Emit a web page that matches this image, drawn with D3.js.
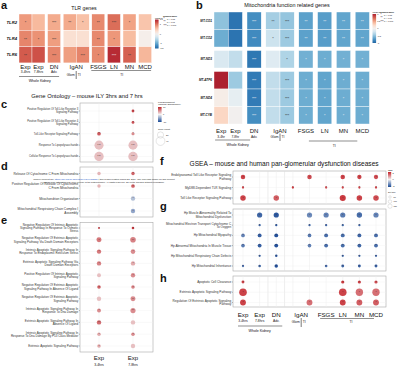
<!DOCTYPE html>
<html>
<head>
<meta charset="utf-8">
<script src="https://cdn.jsdelivr.net/npm/d3@7"></script>
<style>
body { margin: 0; background: #fff; }
svg { display: block; font-family: "Liberation Sans", Arial, sans-serif; }
</style>
</head>
<body>
<script>
var w = 400, h = 367;

// ---- columns shared by the heatmaps and the GSEA panels ----
var colKeys = ["Exp34", "Exp78", "DN", "Glom", "TI", "FSGS", "LN", "MN", "MCD"];
var colGroup = [0, 0, 1, 2, 2, 3, 4, 5, 6];
var colMain = ["Exp", "Exp", "DN", "IgAN", "IgAN", "FSGS", "LN", "MN", "MCD"];
var subHrs = ["3-4hrs", "7-8hrs", "Adv."];
var subHr = ["3-4hr", "7-8hr", "Adv."];

// ---- a: TLR genes (log2FC) ----
var tlrGenes = ["TLR2", "TLR4", "TLR6"];
var tlrFC = [
  [0.8, 0.6, 0.7, 0.7, 0.55, 0.9, 1.05, 0.75, 0.52],
  [0.92, 0.85, 0.78, 0.28, 0.28, 0.9, 0.82, 0.58, 0.06],
  [1.15, 1.2, 0.92, 0.78, 0.92, 0.9, 1.42, 1.12, 0.62]
];
var tlrSig = [
  ["*", "", "***", "**", "*", "**", "***", "*", ""],
  ["**", "*", "***", "", "", "**", "*", "", ""],
  ["**", "", "***", "", "***", "*", "***", "**", ""]
];

// ---- b: mitochondria genes (log2FC) ----
var mitoGenes = ["MT-CO1", "MT-CO2", "MT-ND3", "MT-ATP6", "MT-ND4", "MT-CYB"];
var mitoFC = [
  [-0.5, -0.92, -0.78, -0.42, -0.48, -0.68, -0.7, -0.66, -0.66],
  [-0.62, -0.92, -0.8, -0.25, -0.45, -0.68, -0.7, -0.66, -0.66],
  [-0.18, -0.3, -0.9, -0.15, -0.38, -0.6, -0.62, -0.6, -0.6],
  [1.0, -0.45, -0.88, -0.3, -0.45, -0.62, -0.66, -0.62, -0.62],
  [0.06, -0.1, -0.88, -0.3, -0.45, -0.62, -0.66, -0.62, -0.62],
  [0.25, 0, -0.78, -0.3, -0.45, -0.62, -0.66, -0.62, -0.62]
];
var mitoSig = [
  ["", "", "***", "**", "***", "**", "**", "**", "**"],
  ["", "", "***", "*", "***", "**", "**", "**", "**"],
  ["", "", "***", "", "*", "*", "*", "*", "*"],
  ["", "", "***", "", "***", "*", "*", "*", "*"],
  ["", "", "***", "", "***", "*", "*", "*", "*"],
  ["", "", "***", "", "***", "*", "*", "*", "*"]
];

// ---- c, d, e: Gene Ontology [fold enrichment, gene count, significance] ----
var goCols = ["Exp 3-4hrs", "Exp 7-8hrs"];
var goTermsC = [
  "Positive Regulation Of Toll-Like Receptor 3\nSignaling Pathway",
  "Positive Regulation Of Toll-Like Receptor 4\nSignaling Pathway",
  "Toll-Like Receptor Signaling Pathway",
  "Response To Lipopolysaccharide",
  "Cellular Response To Lipopolysaccharide"
];
var goC = [
  [null, [8.5, 4, "*"]],
  [null, [8, 4, "*"]],
  [[7.5, 7, "**"], [5, 5, "*"]],
  [[2.5, 42, "***"], [2.5, 42, "***"]],
  [[2.5, 45, "***"], [2.5, 45, "***"]]
];
var goTermsD = [
  "Release Of Cytochrome C From Mitochondria",
  "Positive Regulation Of Release Of Cytochrome\nC From Mitochondria",
  "Mitochondrion Organization",
  "Mitochondrial Respiratory Chain Complex I\nAssembly"
];
var goD = [
  [[3, 6, ""], [7, 6, "*"]],
  [[3, 6, ""], [7, 7, "*"]],
  [null, [-3, 10, "*"]],
  [null, [-4.5, 10, "*"]]
];
var goTermsE = [
  "Negative Regulation Of Intrinsic Apoptotic\nSignaling Pathway In Response To Osmotic\nStress",
  "Negative Regulation Of Extrinsic Apoptotic\nSignaling Pathway Via Death Domain Receptors",
  "Intrinsic Apoptotic Signaling Pathway In\nResponse To Endoplasmic Reticulum Stress",
  "Extrinsic Apoptotic Signaling Pathway Via\nDeath Domain Receptors",
  "Positive Regulation Of Intrinsic Apoptotic\nSignaling Pathway",
  "Negative Regulation Of Extrinsic Apoptotic\nSignaling Pathway In Absence Of Ligand",
  "Negative Regulation Of Extrinsic Apoptotic\nSignaling Pathway",
  "Intrinsic Apoptotic Signaling Pathway In\nResponse To Dna Damage",
  "Extrinsic Apoptotic Signaling Pathway In\nAbsence Of Ligand",
  "Intrinsic Apoptotic Signaling Pathway In\nResponse To Dna Damage By P53 Class Mediator",
  "Extrinsic Apoptotic Signaling Pathway"
];
var goE = [
  [[9, 1.7, "*"], [9, 3.4, "*"]],
  [[6, 12.7, "*"], [5.5, 16, "**"]],
  [[6, 9.9, "*"], [5, 11, "*"]],
  [[5.5, 9.9, "*"], [3.5, 9.9, "*"]],
  [[2.5, 8, ""], [5, 9.9, "*"]],
  [[7, 6.6, "*"], [5.5, 6.6, "*"]],
  [[2.5, 9.9, ""], [5, 12.7, "**"]],
  [[5, 8, "*"], [5, 13.5, "**"]],
  [[6.5, 9.9, "**"], [2.5, 9.9, ""]],
  [[3.5, 6.6, "*"], [5, 6.6, "*"]],
  [[3.5, 6.6, "*"], [2.5, 9.9, ""]]
];

// ---- f, g, h: GSEA [NES, set size] ----
var gseaTermsF = [
  "Endolysosomal Toll Like Receptor Signaling\nPathway",
  "MyD88-Dependent TLR Signaling",
  "Toll Like Receptor Signaling Pathway"
];
var gseaF = [
  [[2.0, 60], null, null, null, [1.9, 60], null, [2.0, 60], [2.0, 55], [1.9, 55]],
  [[2.0, 15], null, null, [2.1, 15], null, [1.9, 15], [2.0, 15], [2.0, 15], [2.0, 15]],
  [[2.0, 90], null, [1.7, 90], null, null, null, [2.1, 110], [2.0, 90], [1.9, 90]]
];
var gseaTermsG = [
  "Hp Muscle Abnormality Related To\nMitochondrial Dysfunction",
  "Mitochondrial Electron Transport Cytochrome C\nTo Oxygen",
  "Hp Mitochondrial Myopathy",
  "Hp Abnormal Mitochondria In Muscle Tissue",
  "Hp Mitochondrial Respiratory Chain Defects",
  "Hp Mitochondrial Inheritance"
];
var gseaG = [
  [null, [-2.0, 80], [-2.2, 80], null, [-1.5, 80], [-1.6, 80], [-1.7, 80], [-1.9, 85], [-1.6, 80]],
  [null, [-2.0, 15], [-2.2, 15], null, [-2.0, 15], [-2.0, 15], [-2.0, 15], [-2.0, 15], null],
  [[-1.6, 40], [-2.1, 45], [-2.3, 45], null, [-1.7, 40], [-1.9, 45], [-1.9, 45], [-2.0, 45], [-1.9, 45]],
  [[-1.7, 40], [-2.1, 45], [-2.3, 45], null, [-1.6, 40], [-1.9, 45], [-1.9, 45], [-2.0, 45], [-1.9, 45]],
  [null, [-2.0, 15], [-2.2, 18], null, null, null, [-2.0, 15], [-2.0, 15], [-2.0, 15]],
  [[-1.9, 15], [-2.0, 20], [-2.3, 35], null, null, [-1.9, 20], [-2.0, 25], [-2.1, 25], [-2.1, 25]]
];
var gseaTermsH = [
  "Apoptotic Cell Clearance",
  "Extrinsic Apoptotic Signaling Pathway",
  "Regulation Of Extrinsic Apoptotic Signaling\nPathway"
];
var gseaH = [
  [[2.0, 25], null, null, null, null, null, [2.1, 30], [2.0, 30], [1.9, 30]],
  [[2.0, 170], null, null, null, null, null, [2.0, 170], [1.5, 160], [1.5, 160]],
  [[2.0, 100], null, null, null, [1.5, 100], null, [2.0, 100], [1.7, 100], [1.7, 100]]
];

// legend tick labels
var fcTicksA = [1.5, 1, 0, -1, -1.5];
var fcTicksB = [1, 0.5, 0, -0.5, -1];
var feTicks = [10, 0, -10];
var nesTicks = [2, 0, -2];
var sigLegend = [["*", "p < 0.05"], ["**", "p < 0.01"], ["***", "p < 0.001"]];

var svg = d3.select("body").append("svg").attr("width", w).attr("height", h);
var defs = svg.append("defs");

// ---- helpers ----
function txt(g, s, x, y, size, anchor, extra) {
  var t = g.append("text").attr("x", x).attr("y", y).attr("font-size", size)
    .attr("text-anchor", anchor || "start").attr("fill", "#111").text(s);
  if (extra) for (var k in extra) t.attr(k, extra[k]);
  return t;
}
function multi(g, s, x, yc, size, anchor) {
  var lines = s.split("\n"), lh = size * 1.12;
  var t = g.append("text").attr("font-size", size).attr("text-anchor", anchor).attr("fill", "#333")
    .attr("y", yc - (lines.length - 1) * lh / 2 + size * 0.35);
  lines.forEach(function(l, i) {
    t.append("tspan").attr("x", x).attr("dy", i ? lh : 0).text(l);
  });
}
function line(g, x1, y1, x2, y2, col, sw) {
  g.append("line").attr("x1", x1).attr("y1", y1).attr("x2", x2).attr("y2", y2)
    .attr("stroke", col).attr("stroke-width", sw);
}
function vGrad(id, scale, top, bottom) {
  var lg = defs.append("linearGradient").attr("id", id).attr("x1", 0).attr("y1", 0).attr("x2", 0).attr("y2", 1);
  d3.range(0, 1.01, 0.1).forEach(function(t) {
    lg.append("stop").attr("offset", t).attr("stop-color", scale(top + (bottom - top) * t));
  });
}
function rdbu(max) {
  var t = d3.scaleLinear().domain([-max, max]).range([0.9, 0.1]).clamp(true);
  return function(v) { return d3.interpolateRdBu(t(v)); };
}

// column axis under heatmaps / GSEA panels
function colAxis(cx, o) {
  var g = svg.append("g");
  var mid = (cx(3) + cx(4)) / 2;
  colMain.forEach(function(m, i) {
    if (i === 4) return;
    txt(g, m, i === 3 ? mid : cx(i), o.y, o.main, "middle");
  });
  o.subs.forEach(function(s, i) { txt(g, s, cx(i), o.y + o.subDy, o.sub, "middle"); });
  txt(g, "Glom", mid - 1.5, o.y + o.glomDy, o.sub, "end");
  txt(g, "TI", mid + 1.5, o.y + o.glomDy, o.sub, "start");
  line(g, mid, o.y + o.bar[0], mid, o.y + o.bar[1], "#222", 0.6);
  line(g, cx(0) - o.wkPad[0], o.y + o.wkDy, cx(2) + o.wkPad[1], o.y + o.wkDy, "#444", 0.6);
  txt(g, "Whole Kidney", (cx(0) + cx(2)) / 2, o.y + o.wkTextDy, o.sub + 0.3, "middle");
  line(g, cx(5) - o.tiPad[0], o.y + o.tiDy, cx(8) + o.tiPad[1], o.y + o.tiDy, "#444", 0.6);
  txt(g, "TI", (cx(5) + cx(8)) / 2, o.y + o.tiTextDy, o.sub, "middle");
}

function heatmap(o) {
  var g = svg.append("g");
  var xi = d3.scaleLinear().domain([0, colKeys.length]).range([o.left, o.left + colKeys.length * o.cw]);
  var yi = d3.scaleLinear().domain([0, o.genes.length]).range([o.top, o.top + o.genes.length * o.rh]);
  var colX = function(i) { return xi(i) + colGroup[i] * o.gap; };
  var rowY = function(r) { return yi(r) + o.rowGroup[r] * o.rowGap; };
  var cells = [];
  o.fc.forEach(function(row, r) {
    row.forEach(function(v, c) { cells.push({ r: r, c: c, v: v, s: o.sig[r][c] }); });
  });
  g.selectAll("rect.cell").data(cells).enter().append("rect").attr("class", "cell")
    .attr("x", function(d) { return colX(d.c); })
    .attr("y", function(d) { return rowY(d.r); })
    .attr("width", o.cw).attr("height", o.rh)
    .attr("fill", function(d) { return o.color(d.v); })
    .attr("stroke", "#fff").attr("stroke-width", 0.4);
  g.selectAll("text.star").data(cells.filter(function(d) { return d.s; })).enter().append("text")
    .attr("class", "star")
    .attr("x", function(d) { return colX(d.c) + o.cw / 2; })
    .attr("y", function(d) { return rowY(d.r) + o.rh / 2 + 2.2; })
    .attr("font-size", 3.8).attr("text-anchor", "middle")
    .attr("fill", function(d) { return Math.abs(d.v) > o.lightAt ? "#f4f4f4" : "#333"; })
    .text(function(d) { return d.s; });
  o.genes.forEach(function(gn, r) {
    txt(g, gn, o.left - 2, rowY(r) + o.rh / 2 + o.labSize * 0.35, o.labSize, "end",
      { "font-weight": "bold", "font-style": "italic" });
  });
  return function(i) { return colX(i) + o.cw / 2; };
}

function dotPanel(o) {
  var g = svg.append("g");
  var ys = d3.scalePoint().domain(d3.range(o.rows.length)).range(o.yRange);
  g.append("rect").attr("x", o.box[0]).attr("y", o.box[1])
    .attr("width", o.box[2] - o.box[0]).attr("height", o.box[3] - o.box[1])
    .attr("fill", "#fff").attr("stroke", "#a8a8a8").attr("stroke-width", 0.6);
  o.cols.forEach(function(c) {
    line(g, o.x(c), o.box[1], o.x(c), o.box[3], "#ececec", 0.5);
  });
  (o.seps || []).forEach(function(xv) { line(g, xv, o.box[1], xv, o.box[3], "#dcdcdc", 0.5); });
  o.rows.forEach(function(lbl, r) {
    line(g, o.box[0], ys(r), o.box[2], ys(r), "#f0f0f0", 0.4);
    line(g, o.box[0] - 1.2, ys(r), o.box[0], ys(r), "#444", 0.35);
    multi(g, lbl, o.box[0] - 1.8, ys(r), o.labSize, "end");
  });
  var dots = [];
  o.data.forEach(function(row, r) {
    row.forEach(function(d, c) { if (d) dots.push({ r: r, c: c, v: d[0], n: d[1], s: d.length > 2 ? d[2] : "*" }); });
  });
  g.selectAll("circle.dot").data(dots).enter().append("circle").attr("class", "dot")
    .attr("cx", function(d) { return o.x(o.cols[d.c]); })
    .attr("cy", function(d) { return ys(d.r); })
    .attr("r", function(d) { return o.size(d.n); })
    .attr("fill", function(d) { return o.color(d.v); });
  g.selectAll("text.star").data(dots.filter(function(d) { return d.s; })).enter().append("text")
    .attr("class", "star")
    .attr("x", function(d) { return o.x(o.cols[d.c]); })
    .attr("y", function(d) { return ys(d.r) + 1.7; })
    .attr("font-size", 3).attr("text-anchor", "middle").attr("fill", "#3a1010").attr("fill-opacity", 0.75)
    .text(function(d) { return d.s; });
}

// ---- panel letters and titles ----
var lettersG = svg.append("g").attr("font-weight", "bold");
txt(lettersG, "a", 1, 8.5, 11);
txt(lettersG, "b", 196, 9, 11);
txt(lettersG, "c", 1, 108, 11);
txt(lettersG, "d", 1, 170, 11);
txt(lettersG, "e", 1, 224, 11);
txt(lettersG, "f", 160, 165, 11);
txt(lettersG, "g", 160, 210, 11);
txt(lettersG, "h", 160, 282, 11);

txt(svg, "TLR genes", 84, 10, 5.2, "middle");
txt(svg, "Mitochondria function related genes", 287, 7, 5.4, "middle");
txt(svg, "Gene Ontology \u2013 mouse ILY 3hrs and 7 hrs", 87, 97.5, 5.8, "middle");
txt(svg, "GSEA \u2013 mouse and human pan-glomerular dysfunction diseases", 189.5, 166, 6.6, "start");

// ---- a ----
var colorA = rdbu(1.5);
var cxA = heatmap({ left: 19, top: 14, cw: 13, gap: 2.6, rh: 16.3, rowGap: 0, rowGroup: [0, 0, 0],
  genes: tlrGenes, fc: tlrFC, sig: tlrSig, color: colorA, lightAt: 1.3, labSize: 4.2 });
colAxis(cxA, { y: 69, main: 6, sub: 3.3, subs: subHrs, subDy: 4, glomDy: 6.5, bar: [2, 10],
  wkDy: 7.5, wkTextDy: 13, wkPad: [6.5, 5], tiDy: 1.5, tiTextDy: 7, tiPad: [7, 6] });

// ---- b ----
var colorB = rdbu(1);
var cxB = heatmap({ left: 214, top: 12, cw: 14.2, gap: 4.6, rh: 17.5, rowGap: 3.5, rowGroup: [0, 0, 1, 2, 2, 2],
  genes: mitoGenes, fc: mitoFC, sig: mitoSig, color: colorB, lightAt: 0.5, labSize: 3.1 });
colAxis(cxB, { y: 132.5, main: 6, sub: 3.3, subs: subHr, subDy: 5, glomDy: 5, bar: [1, 8.5],
  wkDy: 7.5, wkTextDy: 13.5, wkPad: [6, -4], tiDy: 8.5, tiTextDy: 14, tiPad: [-3, -5] });

// ---- heatmap legends ----
function heatLegend(x, y, hgt, max, ticks, color, id, sx, sy) {
  var g = svg.append("g");
  vGrad(id, color, max, -max);
  txt(g, "log2FC", x, y - 1, 2.4);
  g.append("rect").attr("x", x).attr("y", y).attr("width", 3.6).attr("height", hgt)
    .attr("fill", "url(#" + id + ")");
  var ty = d3.scaleLinear().domain([max, -max]).range([y, y + hgt]);
  ticks.forEach(function(t) {
    line(g, x + 3.6, ty(t), x + 4.3, ty(t), "#fff", 0.3);
    txt(g, t, x + 4.8, ty(t) + 0.8, 2.2);
  });
  txt(g, "Significance", sx, sy, 2.4, "start", { "font-weight": "bold" });
  sigLegend.forEach(function(s, i) {
    txt(g, s[0], sx + 0.5, sy + 3.5 + i * 3.3, 2.6);
    txt(g, s[1], sx + 4, sy + 3.3 + i * 3.3, 2.2);
  });
}
heatLegend(155, 19.5, 29, 1.5, fcTicksA, colorA, "gA", 163, 16.5);
heatLegend(372.5, 14, 29, 1, fcTicksB, colorB, "gB", 380, 12.5);

// ---- c, d, e ----
var goX = d3.scalePoint().domain(goCols).range([99, 133]);
var goColor = d3.scaleLinear().domain([-10, 0, 10]).range(["#1a4a96", "#f4f2f2", "#c0262c"]).clamp(true);
var goSize = d3.scaleSqrt().domain([0, 45]).range([0, 4.7]);
dotPanel({ box: [80, 103, 153, 162], rows: goTermsC, data: goC, cols: goCols, x: goX,
  yRange: [111, 156.5], labSize: 2.7, color: goColor, size: goSize });
dotPanel({ box: [80, 167, 153, 217], rows: goTermsD, data: goD, cols: goCols, x: goX,
  yRange: [173.5, 211], labSize: 3.2, color: goColor, size: goSize });
dotPanel({ box: [80, 222.5, 153, 352], rows: goTermsE, data: goE, cols: goCols, x: goX,
  yRange: [228, 346], labSize: 3.0, color: goColor, size: goSize });
var axE = svg.append("g");
goCols.forEach(function(c, i) {
  txt(axE, "Exp", goX(c), 360, 6, "middle");
  txt(axE, subHrs[i], goX(c), 366, 3.4, "middle");
});

// GO legend
var lc = svg.append("g");
vGrad("gC", goColor, 10, -10);
txt(lc, "Fold Enrichment", 158, 102.5, 2.3);
txt(lc, "(ranking: Significance)", 158, 105.2, 2.3);
lc.append("rect").attr("x", 158).attr("y", 107).attr("width", 3.6).attr("height", 15).attr("fill", "url(#gC)");
var lcy = d3.scaleLinear().domain([10, -10]).range([107, 122]);
feTicks.forEach(function(t) { txt(lc, t, 163, lcy(t) + 0.8, 2.2); });
txt(lc, "Gene count", 158, 130, 2.3);
[20, 40].forEach(function(n, i) {
  var cy = 135 + i * 6;
  lc.append("circle").attr("cx", 160.5).attr("cy", cy).attr("r", goSize(n))
    .attr("fill", "none").attr("stroke", "#aaa").attr("stroke-width", 0.3);
  txt(lc, n, 166, cy + 0.8, 2.2);
});

// ---- f, g, h ----
var gx = d3.scalePoint().domain(colKeys).range([243, 376]);
var nesColor = d3.scaleLinear().domain([-2.4, 0, 2.4]).range(["#1a4a96", "#f2f2f2", "#c41f26"]).clamp(true);
var setSize = d3.scaleSqrt().domain([0, 170]).range([0, 3.8]);
var seps = [(gx("Exp78") + gx("DN")) / 2, (gx("DN") + gx("Glom")) / 2];
dotPanel({ box: [233, 171, 386, 204], rows: gseaTermsF, data: gseaF, cols: colKeys, x: gx, seps: seps,
  yRange: [177, 198], labSize: 3.1, color: nesColor, size: setSize });
dotPanel({ box: [233, 209, 386, 271], rows: gseaTermsG, data: gseaG, cols: colKeys, x: gx, seps: seps,
  yRange: [215, 266], labSize: 3.1, color: nesColor, size: setSize });
dotPanel({ box: [233, 276, 386, 307], rows: gseaTermsH, data: gseaH, cols: colKeys, x: gx, seps: seps,
  yRange: [282, 302.5], labSize: 3.1, color: nesColor, size: setSize });
colAxis(function(i) { return gx(colKeys[i]); },
  { y: 316.5, main: 6.2, sub: 3.3, subs: subHrs, subDy: 5, glomDy: 6, bar: [1.5, 10.5],
    wkDy: 9.5, wkTextDy: 15.5, wkPad: [5, 6], tiDy: 2, tiTextDy: 6.5, tiPad: [6, -2] });

// GSEA legend
var lf = svg.append("g");
vGrad("gF", nesColor, 2.4, -2.4);
txt(lf, "NES", 388, 171, 2.2);
lf.append("rect").attr("x", 388).attr("y", 172).attr("width", 3.2).attr("height", 15).attr("fill", "url(#gF)");
var lfy = d3.scaleLinear().domain([2.4, -2.4]).range([172, 187]);
nesTicks.forEach(function(t) { txt(lf, t, 392.5, lfy(t) + 0.8, 2.1); });
txt(lf, "Set size", 388, 193, 2.2);
[50, 100, 150].forEach(function(n, i) {
  var cy = 197 + i * 4.6;
  lf.append("circle").attr("cx", 390).attr("cy", cy).attr("r", setSize(n) * 0.6)
    .attr("fill", "none").attr("stroke", "#aaa").attr("stroke-width", 0.3);
  txt(lf, n, 393.5, cy + 0.8, 2.1);
});

// ---- preprint notice over the page ----
var note = svg.append("g").attr("font-size", 2.35).attr("text-anchor", "middle").attr("fill", "#222");
var n1 = note.append("text").attr("x", 104).attr("y", 180.3);
n1.append("tspan").text("bioRxiv preprint doi: ");
n1.append("tspan").attr("fill", "#1a55c8").text("https://doi.org/10.1101/2024.03.19.585814");
n1.append("tspan").text("; this version posted March 23, 2024. The copyright holder for this preprint");
note.append("text").attr("x", 104).attr("y", 183)
  .text("(which was not certified by peer review) is the author/funder. All rights reserved. No reuse allowed without permission.");
</script>
</body>
</html>
